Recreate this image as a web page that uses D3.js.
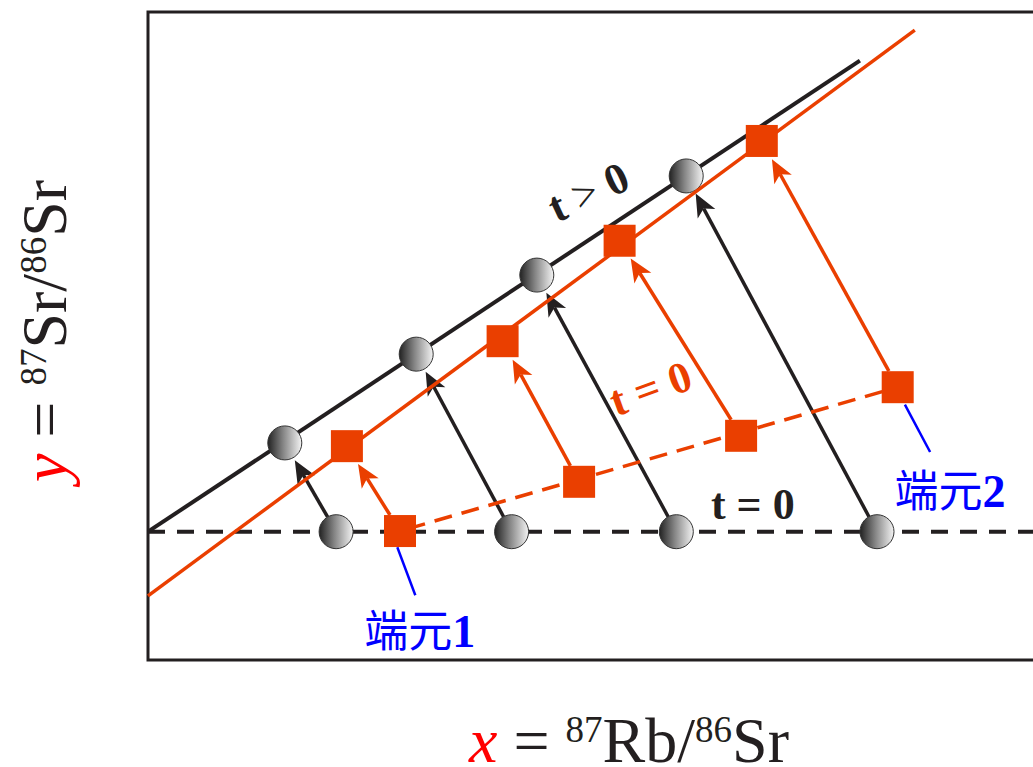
<!DOCTYPE html>
<html>
<head>
<meta charset="utf-8">
<script src="https://cdn.jsdelivr.net/npm/d3@7"></script>
<style>
  body { margin: 0; background: #fff; }
  svg { display: block; }
</style>
</head>
<body>
<div id="container"></div>
<script>
const width = 1033;
const height = 767;

// samples at t = 0 (on the flat initial-ratio line) and after decay (t > 0)
const circlesT0 = [[20.9, 19.8], [40.4, 19.8], [58.7, 19.8], [81.0, 19.8]];
const circlesT1 = [[15.2, 33.5], [29.8, 47.2], [43.2, 59.4], [59.8, 74.7]];
// mixing samples: on the end-member mixing line at t = 0, then after decay
const squaresT0 = [[28.0, 19.9], [47.9, 27.5], [65.9, 34.6], [83.3, 42.1]];
const squaresT1 = [[22.1, 33.0], [39.4, 49.2], [52.4, 64.7], [68.2, 80.1]];

const initialLine = [[0, 19.8], [100, 19.8]];
const blackIsochron = [[0, 19.8], [79.1, 92.5]];
const redIsochron = [[0, 9.9], [85.2, 97.2]];

const leaders = [[[27.7, 17.4], [29.7, 10.0]], [[84.1, 39.4], [86.9, 32.1]]];
const endMembers = [["端元", "1", [30.2, 2.0]], ["端元", "2", [89.1, 23.6]]];
const tLabels = [
  ["t", ">", "0", [48.9, 72.3], -25, "#231f20"],
  ["t", "=", "0", [55.8, 42.0], -20, "#ea3f00"],
  ["t", "=", "0", [67.2, 24.2], 0, "#231f20"]
];

const black = "#231f20", orange = "#ea3f00", blue = "#0000ff";
const serif = "'Liberation Serif', 'Times New Roman', serif";

const x = d3.scaleLinear().domain([0, 100]).range([148, 1048]);
const y = d3.scaleLinear().domain([0, 100]).range([660, 12]);
const line = d3.line().x(d => x(d[0])).y(d => y(d[1]));

const svg = d3.select("div#container")
    .append("svg")
    .attr("width", width)
    .attr("height", height)
    .attr("viewBox", [0, 0, width, height]);

const grad = svg.append("defs").append("linearGradient")
    .attr("id", "ball")
    .attr("x1", 0).attr("x2", 1).attr("y1", 0).attr("y2", 0);
grad.append("stop").attr("offset", "0%").attr("stop-color", "#222");
grad.append("stop").attr("offset", "45%").attr("stop-color", "#858585");
grad.append("stop").attr("offset", "100%").attr("stop-color", "#f4f4f4");

// frame
svg.append("rect")
    .attr("x", x(0)).attr("y", y(100))
    .attr("width", x(100) - x(0)).attr("height", y(0) - y(100))
    .attr("fill", "none").attr("stroke", black).attr("stroke-width", 3);

function arrow(p0, p1, trim0, trim1, color) {
  const a = [x(p0[0]), y(p0[1])], b = [x(p1[0]), y(p1[1])];
  const len = Math.hypot(b[0] - a[0], b[1] - a[1]);
  const u = [(b[0] - a[0]) / len, (b[1] - a[1]) / len], n = [-u[1], u[0]];
  const t0 = typeof trim0 === "function" ? trim0(u) : trim0;
  const s = [a[0] + u[0] * t0, a[1] + u[1] * t0];
  const tip = [b[0] - u[0] * trim1, b[1] - u[1] * trim1];
  const L = 23, W = 10, notch = 6;
  const back = [tip[0] - u[0] * L, tip[1] - u[1] * L];
  const inner = [tip[0] - u[0] * (L - notch), tip[1] - u[1] * (L - notch)];
  svg.append("line")
      .attr("x1", s[0]).attr("y1", s[1]).attr("x2", inner[0]).attr("y2", inner[1])
      .attr("stroke", color).attr("stroke-width", 3.5);
  svg.append("path")
      .attr("d", d3.line()([tip, [back[0] + n[0] * W, back[1] + n[1] * W], inner,
                             [back[0] - n[0] * W, back[1] - n[1] * W]]) + "Z")
      .attr("fill", color);
}
const squareTrim = u => 16 / Math.max(Math.abs(u[0]), Math.abs(u[1]));

// black: initial line, isochron, arrows, circles
svg.append("path").attr("d", line(initialLine))
    .attr("fill", "none").attr("stroke", black).attr("stroke-width", 4)
    .attr("stroke-dasharray", "17,12");
svg.append("path").attr("d", line(blackIsochron))
    .attr("fill", "none").attr("stroke", black).attr("stroke-width", 4);
circlesT0.forEach((d, i) => arrow(d, circlesT1[i], 17, 20, black));

svg.selectAll("circle.ball")
    .data(circlesT0.concat(circlesT1))
    .join("circle")
    .attr("class", "ball")
    .attr("cx", d => x(d[0])).attr("cy", d => y(d[1]))
    .attr("r", 17)
    .attr("fill", "url(#ball)")
    .attr("stroke", "#333").attr("stroke-width", 1);

// orange: isochron, mixing line, arrows, squares
svg.append("path").attr("d", line(redIsochron))
    .attr("fill", "none").attr("stroke", orange).attr("stroke-width", 3.5);
svg.append("path").attr("d", line([squaresT0[0], squaresT0[squaresT0.length - 1]]))
    .attr("fill", "none").attr("stroke", orange).attr("stroke-width", 3.5)
    .attr("stroke-dasharray", "18,10").attr("stroke-dashoffset", -8);
squaresT0.forEach((d, i) => arrow(d, squaresT1[i], squareTrim, 21, orange));

svg.selectAll("rect.sq")
    .data(squaresT0.concat(squaresT1))
    .join("rect")
    .attr("class", "sq")
    .attr("x", d => x(d[0]) - 16).attr("y", d => y(d[1]) - 16)
    .attr("width", 32).attr("height", 32)
    .attr("fill", orange);

// end-member leaders and labels
svg.selectAll("path.leader")
    .data(leaders)
    .join("path")
    .attr("class", "leader")
    .attr("d", line)
    .attr("stroke", blue).attr("stroke-width", 2.5);

const em = svg.selectAll("text.em")
    .data(endMembers)
    .join("text")
    .attr("class", "em")
    .attr("x", d => x(d[2][0])).attr("y", d => y(d[2][1]))
    .attr("text-anchor", "middle")
    .attr("fill", blue);
em.append("tspan")
    .style("font", "44px 'Noto Sans CJK SC', sans-serif")
    .text(d => d[0]);
em.append("tspan")
    .style("font", `bold 46px ${serif}`)
    .text(d => d[1]);

// t labels
const tl = svg.selectAll("text.tl")
    .data(tLabels)
    .join("text")
    .attr("class", "tl")
    .attr("transform", d => `translate(${x(d[3][0])},${y(d[3][1])}) rotate(${d[4]})`)
    .attr("text-anchor", "middle")
    .attr("dy", "0.35em")
    .attr("fill", d => d[5])
    .style("font", `bold 44px ${serif}`);
tl.append("tspan").text(d => d[0] + " ");
tl.append("tspan").attr("font-weight", d => d[1] === ">" ? "normal" : "bold").text(d => d[1]);
tl.append("tspan").text(d => " " + d[2]);

// axis titles
function axisTitle(t, v, num, den) {
  t.style("font", `64px ${serif}`).attr("fill", black).attr("text-anchor", "middle");
  t.append("tspan").attr("fill", "#ff0000").attr("font-style", "italic").text(v);
  t.append("tspan").text(" = ");
  t.append("tspan").attr("font-size", 37).attr("dy", -20).text(num[0]);
  t.append("tspan").attr("dy", 20).text(num[1] + "/");
  t.append("tspan").attr("font-size", 37).attr("dy", -20).text(den[0]);
  t.append("tspan").attr("dy", 20).text(den[1]);
}
axisTitle(svg.append("text").attr("x", 629).attr("y", 762), "x", ["87", "Rb"], ["86", "Sr"]);
axisTitle(svg.append("text").attr("transform", "translate(66,331) rotate(-90)"), "y", ["87", "Sr"], ["86", "Sr"]);
</script>
</body>
</html>
